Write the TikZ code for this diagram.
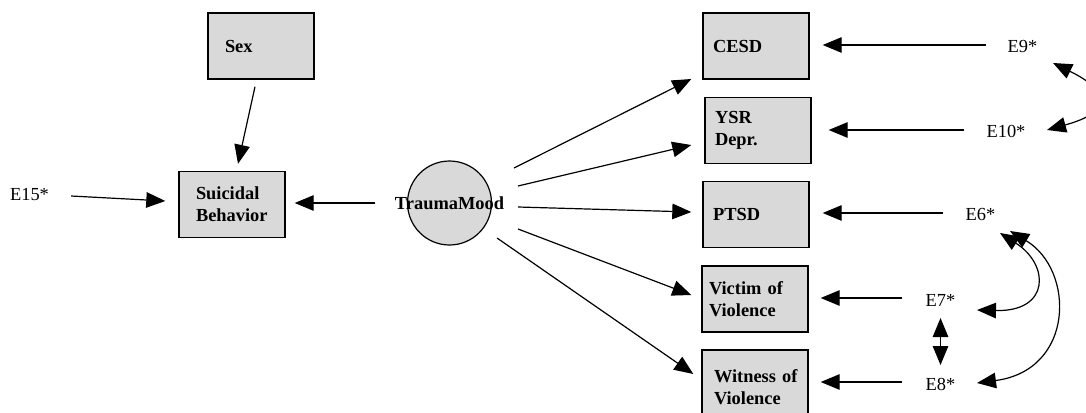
\documentclass[tikz,border=0pt]{standalone}
\usepackage{fontspec}
\setmainfont{Liberation Serif}
\usetikzlibrary{arrows.meta}
\definecolor{boxfill}{RGB}{217,217,217}
\begin{document}
\begin{tikzpicture}[x=1pt,y=-1pt,
  every node/.style={font=\fontsize{18.4}{22.4}\selectfont},
  var/.style={draw, line width=1.4pt, fill=boxfill, minimum height=66pt,
    align=left, inner ysep=0pt, font=\fontsize{18.4}{22.4}\selectfont\bfseries},
  err/.style={inner sep=0pt},
  lat/.style={circle, draw, line width=1.2pt, fill=boxfill, minimum size=84pt, inner sep=0pt},
  arr/.style={line width=1.2pt, -{Triangle[length=19pt,width=15.5pt]}},
  cov/.style={line width=1.2pt, {Triangle[length=19pt,width=15.5pt]}-{Triangle[length=19pt,width=15.5pt]}}
]
\useasboundingbox (0,0) rectangle (1086,412);
\clip (0,0) rectangle (1086,412);

% observed variables
\node[var, inner xsep=17pt, text width=72pt] (sex)  at (261,46)    {Sex};
\node[var, inner xsep=17pt, text width=72pt] (suic) at (232,204.5) {Suicidal\\Behavior};
\node[var, inner xsep=10pt, text width=86pt] (cesd) at (756,46)    {CESD};
\node[var, inner xsep=10pt, text width=86pt] (ysr)  at (758,130.5) {YSR\\Depr.};
\node[var, inner xsep=10pt, text width=86pt] (ptsd) at (756,214.5) {PTSD};
\node[var, inner xsep=7pt,  text width=92pt] (vic)  at (755,299)   {Victim of\\Violence};
\node[var, inner xsep=12pt, text width=82pt, minimum height=74pt] (wit) at (755,387) {Witness~of\\Violence};

% latent factor
\node[lat] (tm) at (449.5,203) {};
\node[font=\fontsize{18.4}{22.4}\selectfont\bfseries, inner sep=0pt] (tmtext) at (tm.center) {TraumaMood};

% error terms
\node[err] (e15) at (29.5,195)  {E15*};
\node[err] (e9)  at (1022.5,46) {E9*};
\node[err] (e10) at (1006,131)  {E10*};
\node[err] (e6)  at (980.5,214) {E6*};
\node[err] (e7)  at (940.5,300) {E7*};
\node[err] (e8)  at (940.5,384) {E8*};

% structural paths
\draw[arr] ([shift={(-6,7)}]sex.south) -- ([shift={(6,-7)}]suic.north);
\draw[arr] ([shift={(22,1)}]e15.east) -- ([shift={(-13,-3.5)}]suic.west);
\draw[arr] ([shift={(-31.5,0)}]tm.west) -- ([shift={(9,-1.5)}]suic.east);

% loadings
\draw[arr] ([shift={(64.5,-35)}]tm.center) -- ([shift={(-11,33)}]cesd.west);
\draw[arr] ([shift={(68.5,-17)}]tm.center) -- ([shift={(-13,14.5)}]ysr.west);
\draw[arr] ([shift={(68.5,4)}]tm.center)   -- ([shift={(-11,-2.5)}]ptsd.west);
\draw[arr] ([shift={(68.5,26)}]tm.center)  -- ([shift={(-10,-4)}]vic.west);
\draw[arr] ([shift={(47.5,35)}]tm.center)  -- ([shift={(-8,-13)}]wit.west);

% residuals
\draw[arr] ([shift={(-21,-1)}]e9.west)  -- ([shift={(13,-1)}]cesd.east);
\draw[arr] ([shift={(-22,-1)}]e10.west) -- ([shift={(17,-0.5)}]ysr.east);
\draw[arr] ([shift={(-22,-1)}]e6.west)  -- ([shift={(13,-1.5)}]ptsd.east);
\draw[arr] ([shift={(-23,-2)}]e7.west)  -- ([shift={(12,-1)}]vic.east);
\draw[arr] ([shift={(-23,-2)}]e8.west)  -- ([shift={(12,-5)}]wit.east);

% error covariances
\draw[cov] ([shift={(0,18)}]e7.center) -- ([shift={(0,-19)}]e8.center);
\draw[cov] ([shift={(36.5,10)}]e7.center) .. controls (1050,312) and (1050,265) .. ([shift={(19.5,19)}]e6.center);
\draw[cov] ([shift={(36.5,-1)}]e8.center) .. controls (1075,370) and (1075,270) .. ([shift={(29.5,17)}]e6.center);
\draw[cov] ([shift={(41,-1)}]e10.center) .. controls (1112,112) and (1112,92) .. ([shift={(30.5,17)}]e9.center);
\end{tikzpicture}
\end{document}
